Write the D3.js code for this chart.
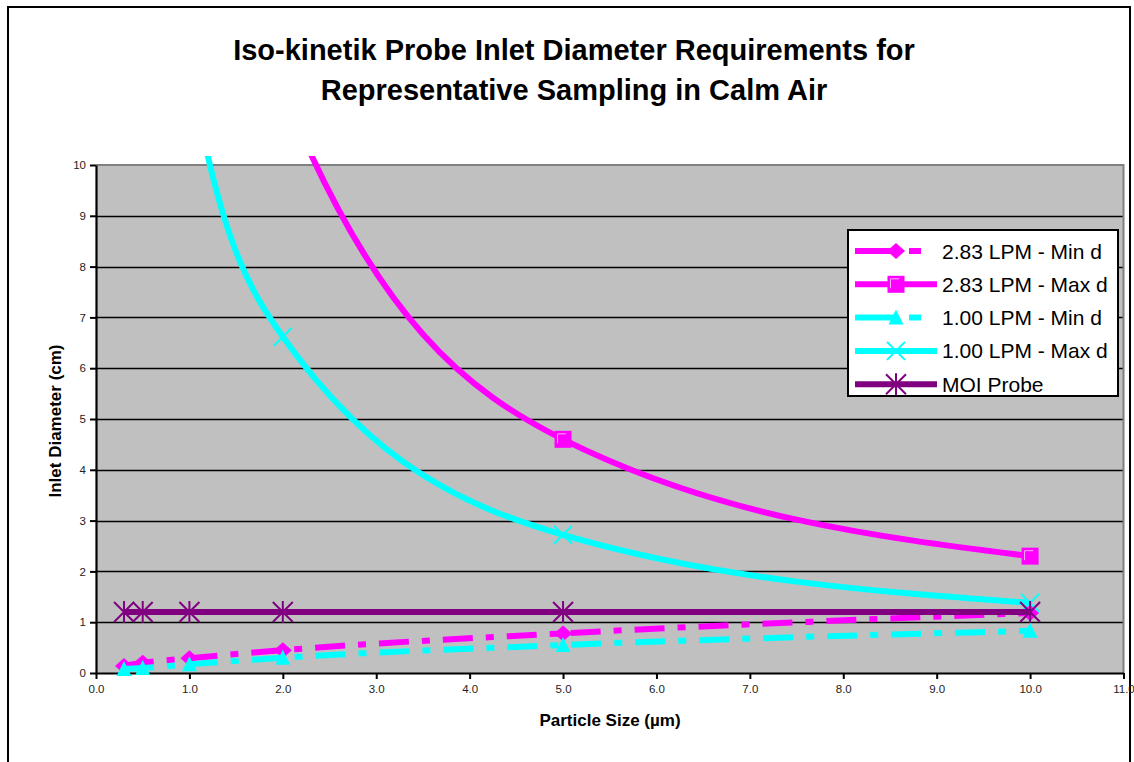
<!DOCTYPE html>
<html>
<head>
<meta charset="utf-8">
<script src="https://cdn.jsdelivr.net/npm/d3@7"></script>
<style>
  html, body { margin: 0; padding: 0; background: #ffffff; }
  svg { display: block; font-family: "Liberation Sans", Arial, sans-serif; }
</style>
</head>
<body>
<svg id="chart" width="1134" height="762"></svg>
<script>
// ---- Data ----
const titleLines = ["Iso-kinetik Probe Inlet Diameter Requirements for", "Representative Sampling in Calm Air"];
const xLabel = "Particle Size (\u00b5m)";
const yLabel = "Inlet Diameter (cm)";
const particleSizes = [0.3, 0.5, 1.0, 2.0, 5.0, 10.0];
const minD283 = [0.14, 0.20, 0.29, 0.45, 0.78, 1.18];
const maxD283 = [76, 46, 23, 11.5, 4.6, 2.3];
const minD100 = [0.08, 0.10, 0.17, 0.30, 0.55, 0.83];
const maxD100 = [40, 24, 12, 6.62, 2.72, 1.38];
const moiProbe = [1.2, 1.2, 1.2, 1.2, 1.2, 1.2];
const seriesNames = ["2.83 LPM - Min d", "2.83 LPM - Max d", "1.00 LPM - Min d", "1.00 LPM - Max d", "MOI Probe"];
const xTicks = [0, 1, 2, 3, 4, 5, 6, 7, 8, 9, 10, 11];
const yTicks = [0, 1, 2, 3, 4, 5, 6, 7, 8, 9, 10];

// ---- Styles ----
const MAGENTA = "#ff00ff", CYAN = "#00ffff", PURPLE = "#800080";
const series = [
  { name: seriesNames[0], values: minD283, color: MAGENTA, dashed: true, marker: "diamond" },
  { name: seriesNames[1], values: maxD283, color: MAGENTA, dashed: false, marker: "square" },
  { name: seriesNames[2], values: minD100, color: CYAN, dashed: true, marker: "triangle" },
  { name: seriesNames[3], values: maxD100, color: CYAN, dashed: false, marker: "x" },
  { name: seriesNames[4], values: moiProbe, color: PURPLE, dashed: false, marker: "star" }
];

const svg = d3.select("#chart");
const plot = { left: 96, right: 1123.5, top: 165, bottom: 673 };
const x = d3.scaleLinear().domain([0, 11]).range([plot.left, plot.right]);
const y = d3.scaleLinear().domain([0, 10]).range([plot.bottom, plot.top]);

// outer frame
svg.append("rect").attr("x", 8).attr("y", 7).attr("width", 1122).attr("height", 800)
  .attr("fill", "#fff").attr("stroke", "#000").attr("stroke-width", 2);

// title
svg.append("text").attr("text-anchor", "middle").attr("font-weight", "bold").attr("font-size", 29)
  .selectAll("tspan").data(titleLines).join("tspan")
  .attr("x", 574).attr("y", (d, i) => 59.5 + i * 40).text(d => d);

// plot area
svg.append("rect").attr("x", plot.left).attr("y", plot.top)
  .attr("width", plot.right - plot.left).attr("height", plot.bottom - plot.top)
  .attr("fill", "#c0c0c0");

// gridlines
svg.append("g").selectAll("line").data(yTicks.filter(d => d > 0 && d < 10)).join("line")
  .attr("x1", plot.left).attr("x2", plot.right)
  .attr("y1", d => Math.round(y(d)) + 0.5).attr("y2", d => Math.round(y(d)) + 0.5)
  .attr("stroke", "#000").attr("stroke-width", 1.3);

// top & right border (gray)
svg.append("path")
  .attr("d", `M${plot.left},${plot.top} H${plot.right} V${plot.bottom}`)
  .attr("fill", "none").attr("stroke", "#808080").attr("stroke-width", 2);

// axes
const yAxis = d3.axisLeft(y).tickValues(yTicks).tickFormat(d3.format("d")).tickSize(6).tickSizeOuter(0);
const xAxis = d3.axisBottom(x).tickValues(xTicks).tickFormat(d3.format(".1f")).tickSize(6).tickSizeOuter(0);
const gy = svg.append("g").attr("transform", `translate(${plot.left},0)`).call(yAxis);
const gx = svg.append("g").attr("transform", `translate(0,${plot.bottom})`).call(xAxis);
[gx, gy].forEach(g => {
  g.select(".domain").attr("stroke", "#000").attr("stroke-width", 2.2);
  g.selectAll(".tick line").attr("stroke", "#000").attr("stroke-width", 2);
  g.selectAll(".tick text").attr("fill", "#222").attr("font-size", 11.5)
    .attr("font-family", "\"Liberation Sans\", Arial, sans-serif");
});
gy.selectAll(".tick text").attr("x", -10);
gx.selectAll(".tick text").attr("y", 12);

// axis titles
svg.append("text").attr("x", 610).attr("y", 726).attr("text-anchor", "middle")
  .attr("font-weight", "bold").attr("font-size", 17).text(xLabel);
svg.append("text").attr("transform", "translate(61,421) rotate(-90)").attr("text-anchor", "middle")
  .attr("font-weight", "bold").attr("font-size", 17).text(yLabel);

// clip
svg.append("clipPath").attr("id", "clip").append("rect")
  .attr("x", plot.left).attr("y", plot.top - 9)
  .attr("width", plot.right - plot.left).attr("height", plot.bottom - plot.top + 9);

const line = d3.line().curve(d3.curveMonotoneX).x(d => x(d[0])).y(d => y(d[1]));
const DASH = "30,13,8,13";

function drawMarker(g, type, color, cx, cy) {
  if (type === "diamond") {
    g.append("path").attr("d", `M${cx},${cy - 8} L${cx + 9},${cy} L${cx},${cy + 8} L${cx - 9},${cy} Z`).attr("fill", color);
  } else if (type === "square") {
    g.append("rect").attr("x", cx - 8.5).attr("y", cy - 8.5).attr("width", 17).attr("height", 17).attr("fill", color);
    g.append("path").attr("d", `M${cx - 5.5},${cy + 4} V${cy - 5.5} H${cx + 3}`)
      .attr("fill", "none").attr("stroke", "#ffb0ff").attr("stroke-width", 1);
  } else if (type === "triangle") {
    g.append("path").attr("d", `M${cx},${cy - 8} L${cx + 7.5},${cy + 7} L${cx - 7.5},${cy + 7} Z`).attr("fill", color);
  } else if (type === "x") {
    g.append("path").attr("d", `M${cx - 9},${cy - 9} L${cx + 9},${cy + 9} M${cx - 9},${cy + 9} L${cx + 9},${cy - 9}`)
      .attr("stroke", color).attr("stroke-width", 2).attr("fill", "none");
  } else if (type === "star") {
    g.append("path").attr("d", `M${cx - 10},${cy - 10} L${cx + 10},${cy + 10} M${cx - 10},${cy + 10} L${cx + 10},${cy - 10} M${cx},${cy - 11} V${cy + 11}`)
      .attr("stroke", color).attr("stroke-width", 2).attr("fill", "none");
  }
}

const dataG = svg.append("g");
series.forEach(s => {
  const pts = particleSizes.map((px, i) => [px, s.values[i]]);
  const sg = dataG.append("g");
  sg.append("path").datum(pts).attr("clip-path", "url(#clip)")
    .attr("d", line).attr("fill", "none").attr("stroke", s.color).attr("stroke-width", 6)
    .attr("stroke-dasharray", s.dashed ? DASH : null);
  pts.filter(p => p[1] <= 10).forEach(p => drawMarker(sg, s.marker, s.color, x(p[0]), y(p[1])));
});

// legend
const lg = svg.append("g");
lg.append("rect").attr("x", 848).attr("y", 230).attr("width", 270).attr("height", 166)
  .attr("fill", "#fff").attr("stroke", "#000").attr("stroke-width", 2);
series.forEach((s, i) => {
  const ly = 251 + i * 33.3;
  lg.append("line").attr("x1", 855).attr("x2", s.dashed ? 921 : 937).attr("y1", ly).attr("y2", ly)
    .attr("stroke", s.color).attr("stroke-width", 6)
    .attr("stroke-dasharray", s.dashed ? "42,12,12,40" : null);
  drawMarker(lg, s.marker, s.color, 896, ly);
  lg.append("text").attr("x", 942).attr("y", ly + 7.5).attr("font-size", 21).attr("fill", "#000").text(s.name);
});
</script>
</body>
</html>
